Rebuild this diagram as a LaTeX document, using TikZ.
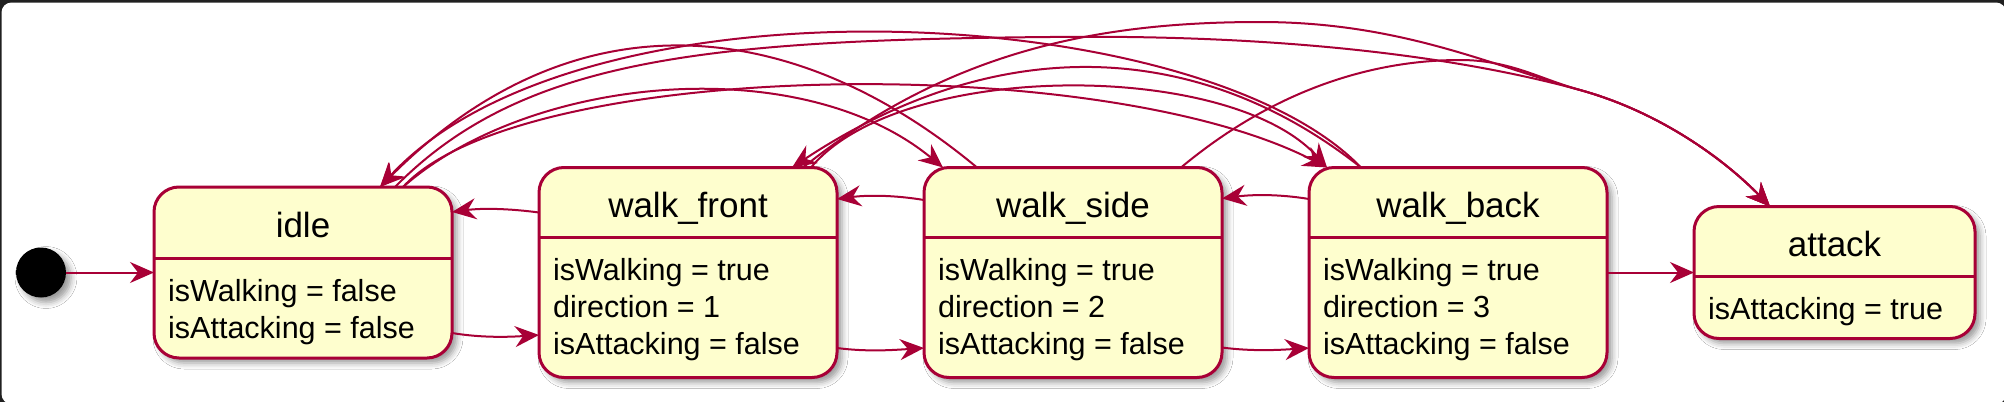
\documentclass[tikz,border=0pt]{standalone}
\usepackage{fontspec}
\setmainfont{Liberation Sans}
\usetikzlibrary{arrows.meta, positioning, calc, shadows.blur}
\definecolor{crimson}{HTML}{A80036}
\definecolor{statefill}{HTML}{FEFECE}
\definecolor{framegray}{HTML}{202020}

\begin{document}
\begin{tikzpicture}[x=1pt, y=-1pt, >={Stealth[length=24pt, width=21pt, inset=8pt]}]
    \tikzstyle{statebox} = [draw=crimson, fill=statefill, line width=3pt, rounded corners=25pt, minimum width=298pt, inner sep=0pt, outer sep=0pt, blur shadow={shadow xshift=5pt, shadow yshift=-5pt, shadow blur radius=6pt}]
    \tikzstyle{sepline} = [draw=crimson, line width=3pt]
    \tikzstyle{titletext} = [anchor=base, inner sep=0pt, font=\fontsize{35}{42}\selectfont]
    \tikzstyle{bodytext} = [anchor=base west, inner sep=0pt, font=\fontsize{30.5}{37}\selectfont]
    \tikzstyle{trans} = [draw=crimson, line width=2pt, ->]

    % frame
    \useasboundingbox (0,0) rectangle (2004,402);
    \fill[framegray] (0,0) rectangle (2004,402);
    \fill[white, rounded corners=10pt] (1.5,2.5) rectangle (2006,404);

    % states
    \node[circle, fill=black, minimum size=50pt, inner sep=0pt, outer sep=0pt, blur shadow={shadow xshift=5pt, shadow yshift=-5pt, shadow blur radius=6pt}] (start) at (41,272.5) {};
    \node[statebox, minimum height=171pt] (idle) at (303,272.5) {};
    \node[statebox, minimum height=210pt, right=87pt of idle] (wf) {};
    \node[statebox, minimum height=210pt, right=87pt of wf] (ws) {};
    \node[statebox, minimum height=210pt, right=87pt of ws] (wb) {};
    \node[statebox, minimum height=132pt, minimum width=281pt, right=87pt of wb] (attack) {};

    \draw[sepline] ($(idle.north west)+(0,71)$) -- ($(idle.north east)+(0,71)$);
    \draw[sepline] ($(wf.north west)+(0,70)$) -- ($(wf.north east)+(0,70)$);
    \draw[sepline] ($(ws.north west)+(0,70)$) -- ($(ws.north east)+(0,70)$);
    \draw[sepline] ($(wb.north west)+(0,70)$) -- ($(wb.north east)+(0,70)$);
    \draw[sepline] ($(attack.north west)+(0,70)$) -- ($(attack.north east)+(0,70)$);

    \node[titletext] (idle-title) at ($(idle.north)+(0,50)$) {idle};
    \node[bodytext] (idle-b1) at ($(idle.north west)+(14,114)$) {isWalking = false};
    \node[bodytext] (idle-b2) at ($(idle.north west)+(14,151)$) {isAttacking = false};

    \node[titletext] (wf-title) at ($(wf.north)+(0,50)$) {walk\_front};
    \node[bodytext] (wf-b1) at ($(wf.north west)+(14,113)$) {isWalking = true};
    \node[bodytext] (wf-b2) at ($(wf.north west)+(14,150)$) {direction = 1};
    \node[bodytext] (wf-b3) at ($(wf.north west)+(14,187)$) {isAttacking = false};

    \node[titletext] (ws-title) at ($(ws.north)+(0,50)$) {walk\_side};
    \node[bodytext] (ws-b1) at ($(ws.north west)+(14,113)$) {isWalking = true};
    \node[bodytext] (ws-b2) at ($(ws.north west)+(14,150)$) {direction = 2};
    \node[bodytext] (ws-b3) at ($(ws.north west)+(14,187)$) {isAttacking = false};

    \node[titletext] (wb-title) at ($(wb.north)+(0,50)$) {walk\_back};
    \node[bodytext] (wb-b1) at ($(wb.north west)+(14,113)$) {isWalking = true};
    \node[bodytext] (wb-b2) at ($(wb.north west)+(14,150)$) {direction = 3};
    \node[bodytext] (wb-b3) at ($(wb.north west)+(14,187)$) {isAttacking = false};

    \node[titletext] (attack-title) at ($(attack.north)+(0,50)$) {attack};
    \node[bodytext] (attack-b1) at ($(attack.north west)+(14,113)$) {isAttacking = true};

    % neighbours
    \draw[trans] (start) -- (idle);
    \draw[trans] ($(idle.north east)+(0,146)$) .. controls +(30,5) and +(-30,2) .. ($(wf.north west)+(0,167.5)$);
    \draw[trans] ($(wf.north west)+(0,45)$) .. controls +(-30,-4) and +(30,-4) .. ($(idle.north east)+(0,25)$);
    \draw[trans] ($(wf.north east)+(0,180.5)$) .. controls +(30,4) and +(-30,2) .. ($(ws.north west)+(0,180.5)$);
    \draw[trans] ($(ws.north west)+(0,32.5)$) .. controls +(-30,-5) and +(30,-4) .. ($(wf.north east)+(0,31.5)$);
    \draw[trans] ($(ws.north east)+(0,180)$) .. controls +(30,4) and +(-30,2) .. ($(wb.north west)+(0,180.5)$);
    \draw[trans] ($(wb.north west)+(0,31.5)$) .. controls +(-30,-5) and +(30,-4) .. ($(ws.north east)+(0,31)$);
    \draw[trans] (wb) -- (attack);

    % over the top
    \coordinate (idle-in) at ($(idle.north west)+(226,0)$);
    \coordinate (idle-out1) at ($(idle.north west)+(241,0)$);
    \coordinate (idle-out2) at ($(idle.north west)+(249,0)$);
    \coordinate (wf-in) at ($(wf.north west)+(253,0)$);
    \coordinate (wf-out1) at ($(wf.north west)+(264,0)$);
    \coordinate (wf-out2) at ($(wf.north west)+(272,0)$);
    \coordinate (ws-in) at ($(ws.north west)+(19,0)$);
    \coordinate (ws-out1) at ($(ws.north west)+(53,0)$);
    \coordinate (ws-out2) at ($(ws.north west)+(257,0)$);
    \coordinate (wb-in) at ($(wb.north west)+(18,0)$);
    \coordinate (wb-out) at ($(wb.north west)+(52,0)$);
    \coordinate (attack-in) at ($(attack.north west)+(76,0)$);
    \coordinate (attack-join) at (1580,90);

    \draw[trans] (ws-out1) .. controls (800,20) and (580,-13) .. (idle-in);
    \draw[trans] (wb-out) .. controls (1200,0) and (580,-30) .. (idle-in);
    \draw[trans] (idle-out1) .. controls (520,60) and (700,40) .. (1050,37) .. controls (1300,34) and (1470,60) .. (attack-join) .. controls (1660,112) and (1725,160) .. (attack-in);
    \draw[trans] (idle-out2) .. controls (530,75) and (800,50) .. (ws-in);
    \draw[trans] (idle-out2) .. controls (520,60) and (1100,50) .. (wb-in);
    \draw[trans] (wf-out2) .. controls (900,60) and (1230,60) .. (wb-in);
    \draw[trans] (wf-out1) .. controls (950,50) and (1100,22) .. (1260,22) .. controls (1400,22) and (1490,65) .. (attack-join) .. controls (1660,112) and (1725,160) .. (attack-in);
    \draw[trans] (ws-out2) .. controls (1280,85) and (1380,60) .. (1460,60) .. controls (1510,60) and (1540,79) .. (attack-join) .. controls (1660,112) and (1725,160) .. (attack-in);
    \draw[trans] (wb-out) .. controls (1200,40) and (1000,30) .. (wf-in);
\end{tikzpicture}
\end{document}
